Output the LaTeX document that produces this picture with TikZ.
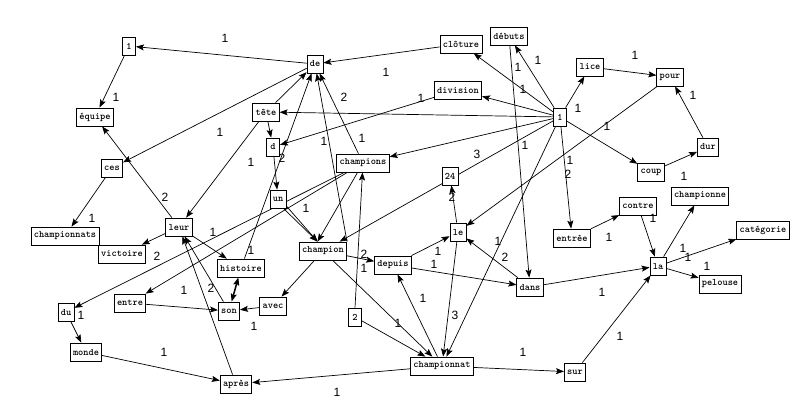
\documentclass[tikz,border=0pt]{standalone}
\usepackage{fontspec}
\setsansfont{Liberation Sans}
\usetikzlibrary{arrows.meta}
\pgfdeclarelayer{bg}
\pgfsetlayers{bg,main}

\begin{document}
\begin{tikzpicture}[x=1pt,y=1pt,yscale=-1,xscale=1,
  word/.style={draw,fill=white,line width=0.8pt,inner xsep=2.8pt,inner ysep=0pt,minimum height=18pt,minimum width=13pt,font=\ttfamily\bfseries\fontsize{9.9}{10}\selectfont},
  edge/.style={line width=0.7pt,-{Stealth[length=8pt,width=6pt,inset=1.5pt]}},
  cnt/.style={inner sep=0pt,font=\sffamily\fontsize{12}{12}\selectfont}]
\useasboundingbox (0,0) rectangle (812,416);

% Word Nodes
\node[word] (onel) at (129,46) {1};
\node[word] (de) at (315,64) {de};
\node[word] (cloture) at (461,44) {clôture};
\node[word] (debuts) at (509,36) {débuts};
\node[word] (division) at (458,90) {division};
\node[word] (hub) at (560,117) {1};
\node[word] (lice) at (590,67) {lice};
\node[word] (pour) at (670,77) {pour};
\node[word] (dur) at (708,147) {dur};
\node[word] (coup) at (651,172) {coup};
\node[word] (championne) at (700,196) {championne};
\node[word] (contre) at (638,206) {contre};
\node[word] (entree) at (572,238) {entrée};
\node[word] (categorie) at (763,230) {catégorie};
\node[word] (la) at (658,266) {la};
\node[word] (pelouse) at (720,284) {pelouse};
\node[word] (sur) at (575,372) {sur};
\node[word] (dans) at (530,287) {dans};
\node[word] (le) at (458,232) {le};
\node[word] (vingtquatre) at (450,176) {24};
\node[word] (depuis) at (393,265) {depuis};
\node[word] (champion) at (323,251) {champion};
\node[word] (deux) at (355,317) {2};
\node[word] (championnat) at (442,366) {championnat};
\node[word] (champions) at (363,163) {champions};
\node[word] (tete) at (266,112) {tête};
\node[word] (d) at (273,147) {d};
\node[word] (un) at (278,199) {un};
\node[word] (leur) at (179,227) {leur};
\node[word] (histoire) at (241,268) {histoire};
\node[word] (son) at (229,311) {son};
\node[word] (avec) at (273,306) {avec};
\node[word] (entre) at (130,303) {entre};
\node[word] (du) at (66,312) {du};
\node[word] (monde) at (86,352) {monde};
\node[word] (apres) at (236,384) {après};
\node[word] (championnats) at (65,236) {championnats};
\node[word] (victoire) at (122,254) {victoire};
\node[word] (ces) at (112,168) {ces};
\node[word] (equipe) at (95,117) {équipe};

\begin{pgfonlayer}{bg}
%Straight Lines
\draw[edge] (de) -- (onel);
\draw[edge] (onel) -- (equipe);
\draw[edge] (de) -- (ces);
\draw[edge] (ces) -- (championnats);
\draw[edge] (leur) -- (equipe);
\draw[edge] (tete) -- (leur);
\draw[edge] (leur) -- (victoire);
\draw[edge] (leur) -- (histoire);
\draw[edge] (son) -- (leur);
\draw[edge] (apres) -- (leur);
\draw[edge,line width=1.5pt,{Stealth[length=8pt,width=6pt,inset=1.5pt]}-{Stealth[length=8pt,width=6pt,inset=1.5pt]}] (histoire) -- (son);
\draw[edge] (entre) -- (son);
\draw[edge] (avec) -- (son);
\draw[edge] (champion) -- (avec);
\draw[edge] (histoire) -- (de);
\draw[edge] (tete) -- (de);
\draw[edge] (tete) -- (d);
\draw[edge] (d) -- (un);
\draw[edge] (un.-40) -- (champion.120);
\draw[edge] (un.-60) -- (champion.120);
\draw[edge] (champions) -- (de);
\draw[edge] (champion.north east) -- (de);
\draw[edge] (champions) -- (champion.120);
\draw[edge] (champions) -- (du);
\draw[edge] (champions) -- (entre);
\draw[edge] (deux.north) -- (champions);
\draw[edge] (champion) -- (depuis);
\draw[edge] (deux) -- (championnat);
\draw[edge] (champion) -- (championnat);
\draw[edge] (championnat) -- (depuis);
\draw[edge] (le) -- (championnat);
\draw[edge] (hub) -- (championnat);
\draw[edge] (depuis) -- (le);
\draw[edge] (depuis) -- (dans);
\draw[edge] (dans) -- (le);
\draw[edge] (le) -- (vingtquatre);
\draw[edge] (hub) -- (champion);
\draw[edge] (hub) -- (champions);
\draw[edge] (hub) -- (tete);
\draw[edge] (hub) -- (division);
\draw[edge] (division) -- (d);
\draw[edge] (hub) -- (cloture);
\draw[edge] (hub) -- (debuts);
\draw[edge] (debuts) -- (dans);
\draw[edge] (cloture) -- (de);
\draw[edge] (hub) -- (lice);
\draw[edge] (lice) -- (pour);
\draw[edge] (dur) -- (pour);
\draw[edge] (coup) -- (dur);
\draw[edge] (hub) -- (coup);
\draw[edge] (pour) -- (le);
\draw[edge] (hub) -- (entree);
\draw[edge] (entree) -- (contre);
\draw[edge] (contre) -- (la);
\draw[edge] (la) -- (championne);
\draw[edge] (la) -- (categorie);
\draw[edge] (la) -- (pelouse);
\draw[edge] (dans) -- (la);
\draw[edge] (sur) -- (la);
\draw[edge] (championnat) -- (sur);
\draw[edge] (championnat) -- (apres);
\draw[edge] (monde) -- (apres);
\draw[edge] (du) -- (monde);
\end{pgfonlayer}

% Text Node
\node[cnt] (c1) at (225,38) {1};
\node[cnt] (c2) at (116,97) {1};
\node[cnt] (c3) at (220,132) {1};
\node[cnt] (c4) at (92,218) {1};
\node[cnt] (c5) at (165,197) {2};
\node[cnt] (c6) at (251,162) {1};
\node[cnt] (c7) at (157,256) {2};
\node[cnt] (c8) at (213,232) {1};
\node[cnt] (c9) at (211,288) {2};
\node[cnt] (c10) at (184,290) {1};
\node[cnt] (c11) at (254,326) {1};
\node[cnt] (c12) at (251,250) {1};
\node[cnt] (c13) at (282,158) {2};
\node[cnt] (c14) at (306,208) {1};
\node[cnt] (c15) at (344,97) {2};
\node[cnt] (c16) at (324,141) {1};
\node[cnt] (c17) at (364,254) {2};
\node[cnt] (c18) at (364,268) {1};
\node[cnt] (c19) at (398,323) {1};
\node[cnt] (c20) at (423,298) {1};
\node[cnt] (c21) at (455,315) {3};
\node[cnt] (c22) at (498,241) {1};
\node[cnt] (c23) at (438,251) {1};
\node[cnt] (c24) at (434,264) {1};
\node[cnt] (c25) at (505,257) {2};
\node[cnt] (c26) at (452,197) {2};
\node[cnt] (c27) at (477,154) {3};
\node[cnt] (c28) at (421,98) {1};
\node[cnt] (c29) at (523,89) {1};
\node[cnt] (c30) at (362,138) {1};
\node[cnt] (c31) at (518,67) {1};
\node[cnt] (c32) at (538,60) {1};
\node[cnt] (c33) at (525,145) {1};
\node[cnt] (c34) at (386,72) {1};
\node[cnt] (c35) at (578,108) {1};
\node[cnt] (c36) at (635,55) {1};
\node[cnt] (c37) at (693,95) {1};
\node[cnt] (c38) at (684,176) {1};
\node[cnt] (c39) at (607,126) {1};
\node[cnt] (c40) at (568,174) {2};
\node[cnt] (c41) at (570,160) {1};
\node[cnt] (c42) at (609,237) {1};
\node[cnt] (c43) at (653,218) {1};
\node[cnt] (c44) at (683,248) {1};
\node[cnt] (c45) at (707,266) {1};
\node[cnt] (c46) at (688,257) {1};
\node[cnt] (c47) at (602,292) {1};
\node[cnt] (c48) at (620,336) {1};
\node[cnt] (c49) at (523,352) {1};
\node[cnt] (c50) at (337,392) {1};
\node[cnt] (c51) at (164,352) {1};
\node[cnt] (c52) at (81,315) {1};
\end{tikzpicture}
\end{document}
